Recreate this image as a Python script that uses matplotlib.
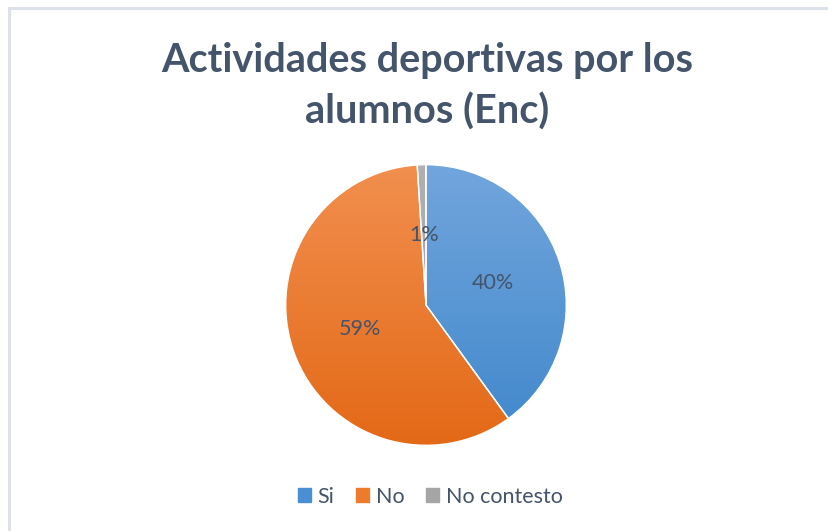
import matplotlib.pyplot as plt
import numpy as np
from matplotlib.colors import LinearSegmentedColormap

categories = ['Si', 'No', 'No contesto']
values = [40, 59, 1]
title = 'Actividades deportivas por los\nalumnos (Enc)'

# gradient (top colour, bottom colour) for each slice
grad_colors = [('#73a6dd', '#3f87cb'), ('#f29050', '#e36815'), ('#b2b2b2', '#969696')]
legend_colors = ['#4a8fd3', '#ee7a2c', '#a5a5a5']
text_color = '#44546a'

plt.rcParams['font.family'] = ['Lato', 'DejaVu Sans']

fig = plt.figure(figsize=(8.29, 5.31), dpi=100)

# chart border (left and top edge visible)
fig.add_artist(plt.Line2D([9 / 829, 9 / 829], [0, 1 - 8 / 531], color='#dde2ea', lw=2.2))
fig.add_artist(plt.Line2D([9 / 829, 1], [1 - 8 / 531, 1 - 8 / 531], color='#dde2ea', lw=2.2))

fig.text(427 / 829, 1 - 86 / 531, title, ha='center', va='center', fontsize=28.5,
         fontweight='bold', color=text_color, linespacing=1.45)

ax = fig.add_axes([(426 - 141) / 829, 1 - (305 + 141) / 531, 282 / 829, 282 / 531])
wedges, texts, autotexts = ax.pie(values, startangle=90, counterclock=False,
                                  colors=legend_colors, autopct='%1.0f%%', pctdistance=0.5,
                                  wedgeprops=dict(linewidth=1, edgecolor='white'),
                                  textprops=dict(color=text_color, fontsize=15.5))
ax.set_aspect('equal')

# gradient fill clipped to each wedge
grad = np.linspace(0, 1, 256).reshape(-1, 1)
for w, (c1, c2) in zip(wedges, grad_colors):
    cmap = LinearSegmentedColormap.from_list('g', [c1, c2])
    im = ax.imshow(grad, cmap=cmap, extent=[-1.05, 1.05, -1.05, 1.05], origin='upper',
                   aspect='auto', zorder=w.get_zorder() + 0.1)
    im.set_clip_path(w)
for w in wedges:
    w.set_facecolor('none')
    w.set_zorder(3)
for t in autotexts:
    t.set_zorder(5)
ax.set_xlim(-1.005, 1.005)
ax.set_ylim(-1.005, 1.005)

handles = [plt.Rectangle((0, 0), 1, 1, color=c) for c in legend_colors]
fig.legend(handles, categories, loc='center', bbox_to_anchor=(430 / 829, 1 - 497 / 531),
           ncol=3, frameon=False, fontsize=15.5, handlelength=0.62, handleheight=0.62,
           handletextpad=0.3, columnspacing=1.0, labelcolor=text_color)

fig.savefig('out.png', dpi=100, facecolor='white')
